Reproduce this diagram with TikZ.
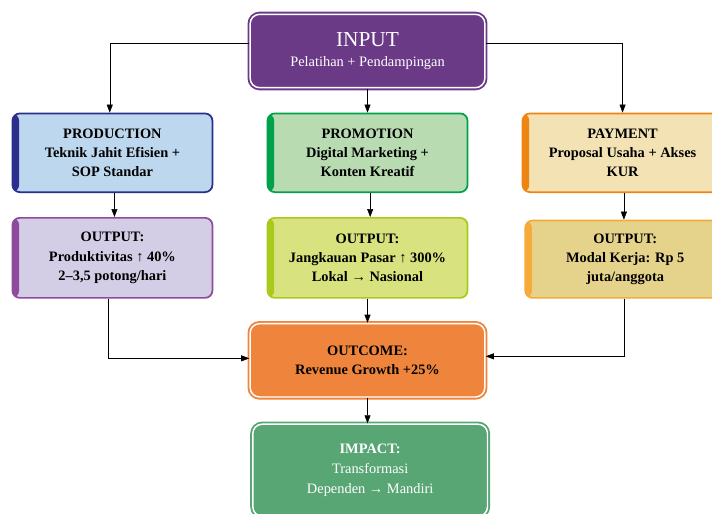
\documentclass[tikz,border=0pt]{standalone}
\usepackage{fontspec}
\setmainfont{Liberation Serif}
\usetikzlibrary{positioning,arrows.meta}

\definecolor{inputc}{HTML}{6B3A87}
\definecolor{prodfill}{HTML}{BDD7EE}
\definecolor{prodline}{HTML}{2A2F8E}
\definecolor{outafill}{HTML}{D3CDE6}
\definecolor{outaline}{HTML}{8E4B9E}
\definecolor{promfill}{HTML}{B8DBB1}
\definecolor{promline}{HTML}{00A14B}
\definecolor{outbfill}{HTML}{D8E37F}
\definecolor{outbline}{HTML}{A9CA1C}
\definecolor{payfill}{HTML}{F3E2B3}
\definecolor{payline}{HTML}{EE8512}
\definecolor{outcfill}{HTML}{E5D38C}
\definecolor{outcline}{HTML}{F5AB3A}
\definecolor{outcomec}{HTML}{EF853C}
\definecolor{impactc}{HTML}{58A674}

\tikzset{
  box/.style={rectangle, rounded corners=5.5pt, draw=#1, line width=1.3pt,
    minimum width=150pt, minimum height=59pt, align=center,
    font=\fontsize{10.8}{14.5}\selectfont\bfseries, text=black},
  bar/.style={path picture={\fill[#1] (path picture bounding box.north west)
    rectangle ([xshift=5pt]path picture bounding box.south west);}},
  mainbox/.style={rectangle, rounded corners=7pt, draw=#1, fill=#1,
    double=white, double distance=1.1pt, line width=1.4pt,
    minimum width=176pt, minimum height=55pt, align=center},
}

\begin{document}
\begin{tikzpicture}[x=0.75pt, y=-0.75pt, node distance=18pt and 40pt, >={Triangle[length=6pt,width=4.5pt]}]
  \useasboundingbox (0,0) rectangle (712,513);

  % input
  \node[mainbox=inputc, text=white] (INPUT) at (367.5,51)
    {{\fontsize{16}{18}\selectfont INPUT}\\[3.5pt]{\fontsize{10.8}{12}\selectfont Pelatihan + Pendampingan}};

  % tiga pilar
  \node[box=promline, fill=promfill, bar=promline, below=of INPUT] (PROMOTION)
    {PROMOTION\\Digital Marketing +\\Konten Kreatif};
  \node[box=prodline, fill=prodfill, bar=prodline, left=of PROMOTION] (PRODUCTION)
    {PRODUCTION\\Teknik Jahit Efisien +\\SOP Standar};
  \node[box=payline, fill=payfill, bar=payline, right=of PROMOTION] (PAYMENT)
    {PAYMENT\\Proposal Usaha + Akses\\KUR};

  % output tiap pilar
  \node[box=outbline, fill=outbfill, bar=outbline, minimum height=60pt, below=of PROMOTION] (OUTPUTB)
    {OUTPUT:\\Jangkauan Pasar ↑ 300\%\\Lokal → Nasional};
  \node[box=outaline, fill=outafill, bar=outaline, minimum height=60pt, left=of OUTPUTB] (OUTPUTA)
    {OUTPUT:\\Produktivitas ↑ 40\%\\2–3,5 potong/hari};
  \node[box=outcline, fill=outcfill, bar=outcline, minimum height=58pt, right=42pt of OUTPUTB, yshift=-1pt] (OUTPUTC)
    {OUTPUT:\\Modal Kerja: Rp 5\\juta/anggota};

  % outcome dan impact
  \node[mainbox=outcomec, text=black, font=\fontsize{10.8}{14.5}\selectfont\bfseries, below=of OUTPUTB] (OUTCOME)
    {OUTCOME:\\Revenue Growth +25\%};
  \node[mainbox=impactc, text=white, minimum height=69pt, font=\fontsize{10.8}{15}\selectfont, below=19pt of OUTCOME, xshift=2pt] (IMPACT)
    {\textbf{IMPACT:}\\Transformasi\\Dependen → Mandiri};

  % panah dari input
  \draw[->] ([yshift=6pt]INPUT.west) -| ([xshift=-2pt]PRODUCTION.north);
  \draw[->] (INPUT.south) -- (PROMOTION.north);
  \draw[->] ([yshift=6pt]INPUT.east) -| (PAYMENT.north);

  % panah ke output
  \draw[->] ([xshift=1.5pt]PRODUCTION.south) -- ([xshift=1.5pt]PRODUCTION.south |- OUTPUTA.north);
  \draw[->] ([xshift=2pt]PROMOTION.south) -- ([xshift=2pt]PROMOTION.south |- OUTPUTB.north);
  \draw[->] ([xshift=1pt]PAYMENT.south) -- ([xshift=1pt]PAYMENT.south |- OUTPUTC.north);

  % panah ke outcome
  \draw[->] ([xshift=-3.5pt]OUTPUTA.south) |- ([yshift=1.5pt]OUTCOME.west);
  \draw[->] (OUTPUTB.south) -- (OUTPUTB.south |- OUTCOME.north);
  \draw[->] ([xshift=-1pt]OUTPUTC.south) |- ([yshift=3pt]OUTCOME.east);

  % panah ke impact
  \draw[->] (OUTCOME.south) -- (OUTCOME.south |- IMPACT.north);
\end{tikzpicture}
\end{document}
